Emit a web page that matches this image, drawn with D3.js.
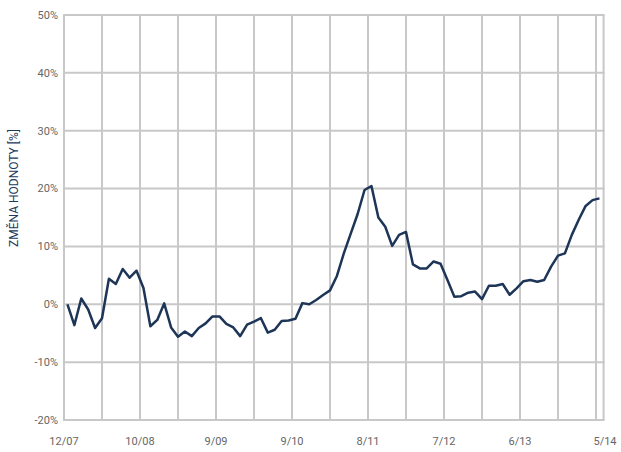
<!DOCTYPE html>
<html>
<head>
<meta charset="utf-8">
<script src="https://cdn.jsdelivr.net/npm/d3@7"></script>
<style>
  html, body { margin: 0; padding: 0; background: #fff; }
  svg { display: block; font-family: Roboto, "Noto Sans", sans-serif; }
</style>
</head>
<body>
<svg id="chart" width="621" height="452"></svg>
<script>
// ---- data (monthly values, % change) ----
const values = [
  0.0, -3.6, 1.0, -0.9, -4.1, -2.4, 4.4, 3.5, 6.1, 4.6,
  5.8, 2.8, -3.8, -2.7, 0.15, -4.0, -5.6, -4.7, -5.5, -4.1,
  -3.3, -2.1, -2.1, -3.4, -4.0, -5.5, -3.5, -3.0, -2.4, -4.9,
  -4.4, -2.9, -2.8, -2.5, 0.2, 0.0, 0.75, 1.6, 2.4, 4.9,
  8.8, 12.2, 15.6, 19.75, 20.45, 15.0, 13.4, 10.1, 12.0, 12.5,
  6.9, 6.2, 6.2, 7.4, 7.0, 4.2, 1.3, 1.4, 2.0, 2.2,
  0.9, 3.2, 3.2, 3.5, 1.65, 2.75, 4.0, 4.2, 3.9, 4.2,
  6.5, 8.4, 8.8, 12.0, 14.6, 17.0, 18.0, 18.3
];
const xTickLabels = ["12/07", "10/08", "9/09", "9/10", "8/11", "7/12", "6/13", "5/14"];
const yTicks = [-20, -10, 0, 10, 20, 30, 40, 50];
const yTitle = "ZMĚNA HODNOTY [%]";

// ---- layout ----
const margin = { left: 64, right: 17.4, top: 15, bottom: 32 };
const W = 621, H = 452;
const svg = d3.select("#chart");

const xDomainStart = -0.5, xDomainEnd = 77.6, gridStep = 5.5;
const x = d3.scaleLinear().domain([xDomainStart, xDomainEnd]).range([margin.left, W - margin.right]);
const y = d3.scaleLinear().domain([-20, 50]).range([H - margin.bottom, margin.top]);

const gridColor = "#c8c8c8";
const gridW = 2;

// vertical grid lines
const vGrid = d3.range(0, 15).map(k => xDomainStart + k * gridStep);
svg.append("g").selectAll("line").data(vGrid).join("line")
  .attr("x1", d => x(d)).attr("x2", d => x(d))
  .attr("y1", y(50)).attr("y2", y(-20))
  .attr("stroke", gridColor).attr("stroke-width", gridW);
// right border
svg.append("line")
  .attr("x1", x(xDomainEnd)).attr("x2", x(xDomainEnd))
  .attr("y1", y(50)).attr("y2", y(-20))
  .attr("stroke", gridColor).attr("stroke-width", gridW);

// horizontal grid lines
svg.append("g").selectAll("line").data(yTicks).join("line")
  .attr("x1", x(xDomainStart) - 1).attr("x2", x(xDomainEnd) + 1)
  .attr("y1", d => y(d)).attr("y2", d => y(d))
  .attr("stroke", gridColor).attr("stroke-width", gridW);

// y tick labels
svg.append("g").selectAll("text").data(yTicks).join("text")
  .attr("x", margin.left - 6)
  .attr("y", d => y(d))
  .attr("dy", "0.35em")
  .attr("text-anchor", "end")
  .attr("font-size", 11)
  .attr("fill", "#666")
  .text(d => d + "%");

// x tick labels (every second grid line)
svg.append("g").selectAll("text").data(xTickLabels).join("text")
  .attr("x", (d, i) => x(xDomainStart + i * 2 * gridStep))
  .attr("dx", (d, i) => i === xTickLabels.length - 1 ? 9 : 0)
  .attr("y", y(-20) + 25)
  .attr("text-anchor", "middle")
  .attr("font-size", 11)
  .attr("fill", "#666")
  .text(d => d);

// y axis title
svg.append("text")
  .attr("transform", `translate(18, 188) rotate(-90)`)
  .attr("text-anchor", "middle")
  .attr("font-size", 12)
  .attr("fill", "#1d3a5c")
  .text(yTitle);

// line
const line = d3.line().x((d, i) => x(i)).y(d => y(d));
svg.append("path")
  .datum(values)
  .attr("d", line)
  .attr("fill", "none")
  .attr("stroke", "#1d3557")
  .attr("stroke-width", 2.5)
  .attr("stroke-linejoin", "round");
</script>
</body>
</html>
